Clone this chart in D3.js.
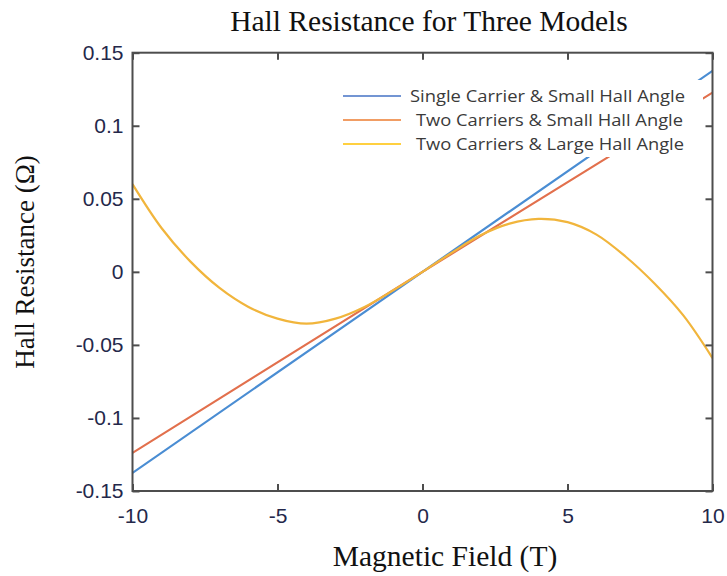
<!DOCTYPE html>
<html>
<head>
<meta charset="utf-8">
<script src="https://cdn.jsdelivr.net/npm/d3@7"></script>
<style>
  html, body { margin: 0; padding: 0; background: #fff; }
  svg { display: block; }
</style>
</head>
<body>
<svg id="chart" width="727" height="576"></svg>
<script>
// Straight-line models: field endpoints and midpoint (T)
const fieldLinear = [-10, 0, 10];
const singleCarrierSmall = [-0.1376, 0, 0.1376];
const twoCarriersSmall = [-0.1239, 0, 0.1227];

// Two-carrier, large Hall angle model sampled every 1 T
const fieldT = [-10, -9, -8, -7, -6, -5, -4, -3, -2, -1, 0, 1, 2, 3, 4, 5, 6, 7, 8, 9, 10];
const twoCarriersLarge = [0.060, 0.030, 0.007, -0.011, -0.024, -0.032, -0.0355, -0.032, -0.024, -0.0125, 0,
                          0.013, 0.025, 0.033, 0.0363, 0.034, 0.0255, 0.0105, -0.008, -0.030, -0.059];

const seriesNames = ["Single Carrier & Small Hall Angle",
                     "Two Carriers & Small Hall Angle",
                     "Two Carriers & Large Hall Angle"];
const lineColors = ["#4a8dd3", "#e2704d", "#f1b53c"];
const legendColors = ["#4472c4", "#ed7d31", "#ffc000"];

const xTicks = [-10, -5, 0, 5, 10];
const xTickLabels = ["-10", "-5", "0", "5", "10"];
const yTicks = [0.15, 0.1, 0.05, 0, -0.05, -0.1, -0.15];
const yTickLabels = ["0.15", "0.1", "0.05", "0", "-0.05", "-0.1", "-0.15"];

const svg = d3.select("#chart");
const plotLeft = 132.5, plotRight = 712.5, plotTop = 52.7, plotBottom = 491;

const x = d3.scaleLinear().domain([-10, 10]).range([plotLeft, plotRight]);
const y = d3.scaleLinear().domain([-0.15, 0.15]).range([plotBottom, plotTop]);

const tickColor = "#24284a";
const axisColor = "#4d4d4d";

// clip for curves
svg.append("defs").append("clipPath").attr("id", "plotClip")
  .append("rect").attr("x", plotLeft).attr("y", plotTop)
  .attr("width", plotRight - plotLeft).attr("height", plotBottom - plotTop);

// series
const allSeries = [
  { xs: fieldLinear, ys: singleCarrierSmall, curve: d3.curveLinear },
  { xs: fieldLinear, ys: twoCarriersSmall, curve: d3.curveLinear },
  { xs: fieldT, ys: twoCarriersLarge, curve: d3.curveCatmullRom.alpha(0.5) }
];

const plot = svg.append("g").attr("clip-path", "url(#plotClip)");
allSeries.forEach((s, k) => {
  const line = d3.line()
    .x((d, i) => x(s.xs[i]))
    .y(d => y(d))
    .curve(s.curve);
  plot.append("path")
    .datum(s.ys)
    .attr("d", line)
    .attr("fill", "none")
    .attr("stroke", lineColors[k])
    .attr("stroke-width", 2.2)
    .attr("stroke-linejoin", "round");
});

// axes: bottom/left with labels, top/right ticks only (all ticks inward)
function styleAxis(g) {
  g.select(".domain").remove();
  g.selectAll(".tick line").attr("stroke", axisColor).attr("stroke-width", 2);
  g.selectAll(".tick text")
    .attr("fill", tickColor)
    .attr("font-family", "'Liberation Sans', Arial, sans-serif")
    .attr("font-size", 21);
}

svg.append("g")
  .attr("transform", `translate(0,${plotBottom})`)
  .call(d3.axisBottom(x).tickValues(xTicks).tickSize(-7).tickPadding(17)
        .tickFormat((d, i) => xTickLabels[i]))
  .call(styleAxis);

svg.append("g")
  .attr("transform", `translate(0,${plotTop})`)
  .call(d3.axisTop(x).tickValues(xTicks).tickSize(-7).tickFormat(""))
  .call(styleAxis);

svg.append("g")
  .attr("transform", `translate(${plotLeft},0)`)
  .call(d3.axisLeft(y).tickValues(yTicks).tickSize(-7).tickPadding(9)
        .tickFormat((d, i) => yTickLabels[i]))
  .call(styleAxis);

svg.append("g")
  .attr("transform", `translate(${plotRight},0)`)
  .call(d3.axisRight(y).tickValues(yTicks).tickSize(-7).tickFormat(""))
  .call(styleAxis);

// plot box
svg.append("rect")
  .attr("x", plotLeft).attr("y", plotTop)
  .attr("width", plotRight - plotLeft).attr("height", plotBottom - plotTop)
  .attr("fill", "none")
  .attr("stroke", axisColor)
  .attr("stroke-width", 2);

// legend
const legend = svg.append("g");
legend.append("rect")
  .attr("x", 335).attr("y", 80).attr("width", 368).attr("height", 77)
  .attr("fill", "#fff");
const legendRows = [
  { y: 96, tx: 410, tw: 275 },
  { y: 120, tx: 416, tw: 267 },
  { y: 144, tx: 416, tw: 268 }
];
legendRows.forEach((r, k) => {
  legend.append("line")
    .attr("x1", 343).attr("x2", 401)
    .attr("y1", r.y).attr("y2", r.y)
    .attr("stroke", legendColors[k])
    .attr("stroke-width", 1.6);
  legend.append("text")
    .attr("x", r.tx).attr("y", r.y + 5.5)
    .attr("textLength", r.tw)
    .attr("lengthAdjust", "spacingAndGlyphs")
    .attr("font-family", "'Open Sans', 'DejaVu Sans', sans-serif")
    .attr("font-size", 15.5)
    .attr("fill", "#3a3a3a")
    .text(seriesNames[k]);
});

// titles
const serif = "'Liberation Serif', 'Times New Roman', serif";
svg.append("text")
  .attr("x", 429).attr("y", 31)
  .attr("text-anchor", "middle")
  .attr("font-family", serif).attr("font-size", 29.5)
  .attr("fill", "#111")
  .text("Hall Resistance for Three Models");

svg.append("text")
  .attr("x", 445).attr("y", 566)
  .attr("text-anchor", "middle")
  .attr("font-family", serif).attr("font-size", 29.5)
  .attr("fill", "#111")
  .text("Magnetic Field (T)");

svg.append("text")
  .attr("transform", "translate(34,262) rotate(-90)")
  .attr("text-anchor", "middle")
  .attr("font-family", serif).attr("font-size", 27)
  .attr("fill", "#111")
  .text("Hall Resistance (Ω)");
</script>
</body>
</html>
